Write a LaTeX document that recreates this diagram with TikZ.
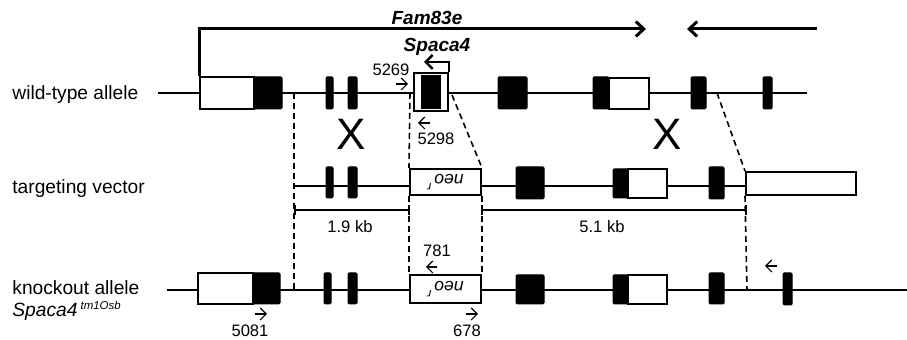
\documentclass[tikz,border=0pt]{standalone}
\usepackage{fontspec}
\setmainfont{Liberation Sans}
\usetikzlibrary{positioning,fit,arrows.meta}

\begin{document}
\begin{tikzpicture}[x=0.5pt, y=-0.5pt,
  every node/.style={font=\fontsize{9.6}{11}\selectfont},
  exon/.style={draw, fill=black, inner sep=0pt, rounded corners=0.6pt, line width=0.5pt},
  utr/.style={draw, fill=white, inner sep=0pt, line width=1pt},
  num/.style={font=\fontsize{8.3}{10}\selectfont, inner sep=0pt},
  neotxt/.style={rotate=180, font=\fontsize{8.8}{10}\selectfont\itshape},
  backbone/.style={line width=1pt},
  guide/.style={line width=0.8pt, dash pattern=on 3pt off 2pt},
  primer/.style={-{Straight Barb[length=3pt,width=6pt]}, line width=0.6pt},
  gene/.style={line width=1.5pt, -{Straight Barb[length=4pt,width=7.5pt]}},
  scalebar/.style={line width=0.8pt, {Bar[width=5pt]}-{Bar[width=5pt]}},
  cross/.style={font=\fontsize{22}{24}\selectfont}
]
\useasboundingbox (0,0) rectangle (907,340);

% backbones
\coordinate (wtL) at (158,93);  \coordinate (wtR) at (807,93);
\coordinate (vL) at (294,186);  \coordinate (vR) at (746,186);
\coordinate (koL) at (167,290); \coordinate (koR) at (907,290);
\draw[backbone] (wtL) -- (wtR);
\draw[backbone] (vL) -- (vR);
\draw[backbone] (koL) -- (koR);

% wild-type allele
\node[utr, fit={(200,77)(254,109)}] (wtUtr) {};
\node[exon, fit={(254,77)(282,109)}] (wtE1) {};
\node[exon, fit={(326,77)(333,109)}] (wtE2) {};
\node[exon, fit={(348,77)(357,109)}] (wtE3) {};
\node[utr, fit={(414,73)(448,111)}] (spaca) {};
\node[exon, draw=none, rounded corners=0pt, fit={(421,75)(441,109)}] (spacaE) {};
\node[exon, fit={(498,77)(527,109)}] (wtE5) {};
\node[utr, fit={(609,78)(649,109)}] (wtU6) {};
\node[exon, fit={(593,77)(609,109)}] (wtE6) {};
\node[exon, fit={(691,77)(706,109)}] (wtE7) {};
\node[exon, fit={(763,77)(772,109)}] (wtE8) {};

% targeting vector
\node[exon, fit={(326,167)(333,198)}] (vE2) {};
\node[exon, fit={(348,167)(357,198)}] (vE3) {};
\node[utr, fit={(410,169)(481,195)}] (vNeo) {};
\node[exon, fit={(516,167)(544,199)}] (vE5) {};
\node[utr, fit={(628,169)(667,198)}] (vU6) {};
\node[exon, fit={(613,169)(628,198)}] (vE6) {};
\node[exon, fit={(709,167)(724,199)}] (vE7) {};
\node[utr, fit={(746,172)(856,195)}] (vArm) {};

% knockout allele
\node[utr, fit={(198,273)(253,304)}] (koUtr) {};
\node[exon, fit={(253,273)(280,304)}] (koE1) {};
\node[exon, fit={(324,273)(331,304)}] (koE2) {};
\node[exon, fit={(348,273)(357,304)}] (koE3) {};
\node[utr, fit={(410,275)(481,303)}] (koNeo) {};
\node[exon, fit={(516,275)(544,304)}] (koE5) {};
\node[utr, fit={(628,275)(667,304)}] (koU6) {};
\node[exon, fit={(613,275)(628,304)}] (koE6) {};
\node[exon, fit={(709,273)(724,304)}] (koE7) {};
\node[exon, fit={(783,273)(792,305)}] (koE8) {};

\node[neotxt] (vNeoTxt) at (vNeo) {neo\,\raisebox{0.9ex}{\fontsize{6}{6}\selectfont r}};
\node[neotxt] (koNeoTxt) at (koNeo) {neo\,\raisebox{0.9ex}{\fontsize{6}{6}\selectfont r}};

% genes
\coordinate (famEnd) at (646,29);
\coordinate (revStart) at (817,29); \coordinate (revEnd) at (687,29);
\draw[gene] (wtUtr.north west) |- (famEnd);
\draw[gene] (revStart) -- (revEnd);
\draw[line width=1.2pt, -{Straight Barb[length=3.5pt,width=7pt]}] (spaca.north east) |- ++(-25,-10);
\node[font=\fontsize{9.5}{11}\selectfont\bfseries\itshape] (famLbl) at (427,18) {Fam83e};
\node[font=\fontsize{9.5}{11}\selectfont\bfseries\itshape] (spacaLbl) at (437,47) {Spaca4};

% homology arms
\coordinate (armL) at (294,93);  \coordinate (armLko) at (294,290);
\coordinate (neoTop) at (410,93); \coordinate (neoTopR) at (452,95);
\coordinate (armR) at (717,93);  \coordinate (armRko) at (747,290);
\draw[guide] (armL) -- (armLko);
\draw[guide] (neoTop) -- (vNeo.north west);
\draw[guide] (neoTopR) -- (vNeo.north east);
\draw[guide] (vNeo.south west) -- (koNeo.north west);
\draw[guide] (vNeo.south east) -- (koNeo.north east);
\draw[guide] (armR) -- (vArm.north west);
\draw[guide] (vArm.south west) -- (armRko);
\node[cross] (x1) at (351,134) {X};
\node[cross] (x2) at (667,134) {X};

% scale
\coordinate (sb1) at (294,210); \coordinate (sb2) at (410,210);
\coordinate (sb3) at (481,210); \coordinate (sb4) at (747,210);
\draw[scalebar] (sb1) -- (sb2);
\draw[scalebar] (sb3) -- (sb4);
\node[num] (kb19) at (350,227) {1.9 kb};
\node[num] (kb51) at (602,227) {5.1 kb};

% primers
\node[num] (p5269) at (391,70) {5269};
\node[num] (p5298) at (436,139) {5298};
\node[num] (p781) at (437,251) {781};
\node[num] (p5081) at (250,331) {5081};
\node[num] (p678) at (467,331) {678};
\coordinate (f5269) at (396,84); \coordinate (r5298) at (430,123);
\coordinate (r781) at (437,267); \coordinate (f5081) at (255,314);
\coordinate (f678) at (466,314); \coordinate (rKo) at (777,266);
\draw[primer] (f5269) -- ++(12,0);
\draw[primer] (r5298) -- ++(-12,0);
\draw[primer] (r781) -- ++(-11,0);
\draw[primer] (f5081) -- ++(12,0);
\draw[primer] (f678) -- ++(12,0);
\draw[primer] (rKo) -- ++(-12,0);

% row labels
\node[anchor=west, inner sep=0pt] (wtLbl) at (12,95) {wild-type allele};
\node[anchor=west, inner sep=0pt] (vLbl) at (12,189) {targeting vector};
\node[anchor=west, inner sep=0pt] (koLbl) at (12,288) {knockout allele};
\node[anchor=west, inner sep=0pt] (koName) at (12,311) {\itshape Spaca4\,\raisebox{0.75ex}{\fontsize{5.7}{6}\selectfont tm1Osb}};
\end{tikzpicture}
\end{document}
